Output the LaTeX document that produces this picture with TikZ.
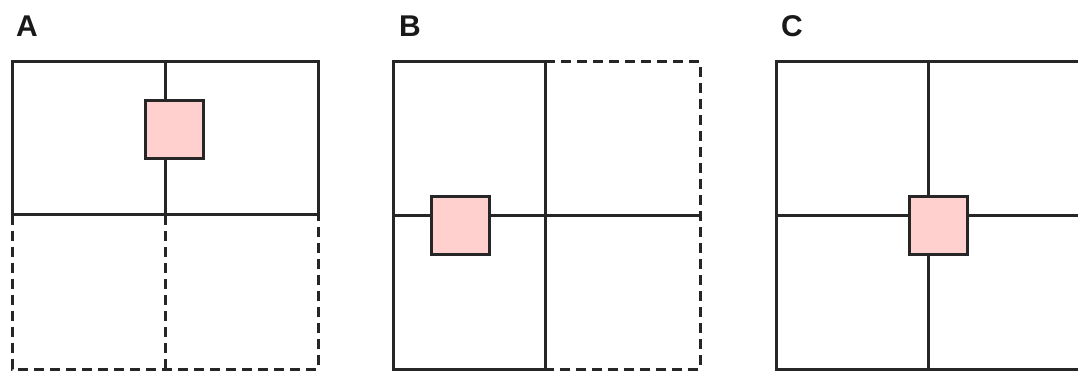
\documentclass[tikz,border=0pt]{standalone}
\usepackage{fontspec}
\setmainfont{Liberation Sans}
\definecolor{ln}{HTML}{262626}
\definecolor{pinkfill}{HTML}{FFD0CD}
\tikzset{
  outer/.style={draw=ln, line width=3pt, line join=miter},
  inner/.style={draw=ln, line width=3pt},
  dsh/.style={draw=ln, line width=3pt, dash pattern=on 10pt off 6pt},
  sq/.style={draw=ln, line width=3pt, fill=pinkfill, minimum width=58pt, minimum height=58pt, inner sep=0pt, outer sep=0pt},
  lab/.style={font=\fontsize{30}{30}\selectfont\bfseries, anchor=base west, inner sep=0pt, text=black!90}
}
\begin{document}
\begin{tikzpicture}[x=1pt,y=-1pt]
\useasboundingbox[fill=white] (0,0) rectangle (1078,371);
% labels
\node[lab] (la) at (16,37) {A};
\node[lab] (lb) at (399,37) {B};
\node[lab] (lc) at (781,37) {C};
% Panel A
\draw[dsh] (12,215) -- (12,369) -- (318,369) -- (318,215);
\draw[dsh] (165,215) -- (165,369);
\draw[inner] (165,62) -- (165,215);
\draw[outer] (12,62) rectangle (318,215);
\node[sq] (sa) at (174.5,129.5) {};
% Panel B
\draw[dsh] (545,62) -- (700,62) -- (700,369) -- (545,369);
\draw[inner] (393,216) -- (700,216);
\draw[outer] (393,62) rectangle (545,369);
\node[sq] (sb) at (460.5,226) {};
% Panel C
\draw[inner] (928,62) -- (928,369);
\draw[inner] (776,216) -- (1085,216);
\draw[outer] (1085,62) -- (776,62) -- (776,369) -- (1085,369);
\node[sq] (sc) at (938,226) {};
\end{tikzpicture}
\end{document}
